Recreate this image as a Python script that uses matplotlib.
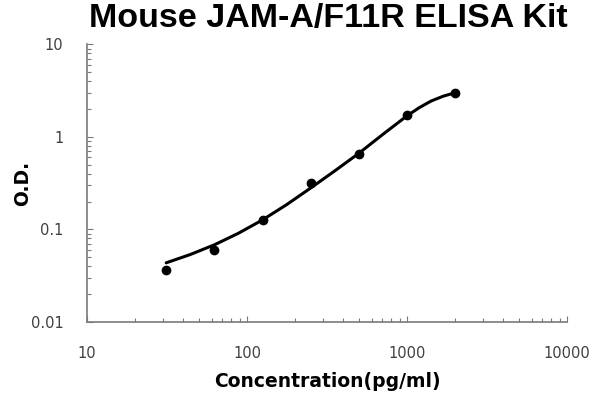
import numpy as np
import matplotlib
matplotlib.use("Agg")
import matplotlib.pyplot as plt
from matplotlib.ticker import LogLocator, FixedLocator, NullFormatter

# ---- data ----
# standards (dots)
concentration = [31.25, 62.5, 125, 250, 500, 1000, 2000]
od = [0.0367, 0.0606, 0.1255, 0.318, 0.658, 1.72, 2.95]
# fitted standard curve
curve_conc = [31.25, 44.19, 62.5, 88.39, 125, 176.8, 250, 353.6, 500,
              707.1, 1000, 1189, 1414, 1682, 2000]
curve_od = [0.0436, 0.0536, 0.0682, 0.0910, 0.1268, 0.1854, 0.2805, 0.4295,
            0.6653, 1.067, 1.690, 2.065, 2.443, 2.754, 3.006]
x_ticks = [10, 100, 1000, 10000]
x_tick_labels = ["10", "100", "1000", "10000"]
y_ticks = [0.01, 0.1, 1, 10]
y_tick_labels = ["0.01", "0.1", "1", "10"]
title = "Mouse JAM-A/F11R ELISA Kit"
xlabel = "Concentration(pg/ml)"
ylabel = "O.D."

# ---- figure ----
fig = plt.figure(figsize=(6, 4), dpi=100)
ax = fig.add_axes([0.145, 0.195, 0.80, 0.694])
ax.plot(curve_conc, curve_od, color="black", lw=2.2, solid_joinstyle="round",
        solid_capstyle="round", zorder=2)
ax.plot(concentration, od, "o", color="black", ms=6, zorder=3)

ax.set_xscale("log")
ax.set_yscale("log")
ax.set_xlim(10, 10000)
ax.set_ylim(0.01, 10)

ax.xaxis.set_major_locator(FixedLocator(x_ticks))
ax.set_xticklabels(x_tick_labels)
ax.yaxis.set_major_locator(FixedLocator(y_ticks))
ax.set_yticklabels(y_tick_labels)
ax.xaxis.set_minor_locator(LogLocator(base=10, subs=np.arange(2, 10)))
ax.yaxis.set_minor_locator(LogLocator(base=10, subs=np.arange(2, 10)))
ax.xaxis.set_minor_formatter(NullFormatter())
ax.yaxis.set_minor_formatter(NullFormatter())

for s in ["top", "right"]:
    ax.spines[s].set_visible(False)
for s in ["left", "bottom"]:
    ax.spines[s].set_color("#7a7a7a")
    ax.spines[s].set_linewidth(1.2)

ax.tick_params(which="both", direction="in", color="#7a7a7a", width=0.8)
ax.tick_params(which="major", length=4)
ax.tick_params(which="minor", length=3)
ax.tick_params(axis="x", which="major", pad=17, labelsize=10.5, labelcolor="#404040")
ax.tick_params(axis="y", which="major", pad=17, labelsize=10.5, labelcolor="#404040")

ax.set_xlabel(xlabel, fontsize=13.5, fontweight="bold", family="DejaVu Sans", labelpad=8)
ax.set_ylabel(ylabel, fontsize=13.5, fontweight="bold", family="DejaVu Sans", labelpad=-1)
fig.text(0.547, 0.955, title, ha="center", va="center", fontsize=24.5,
         fontweight="bold", family="Liberation Sans")

fig.savefig("out.png", dpi=100)
